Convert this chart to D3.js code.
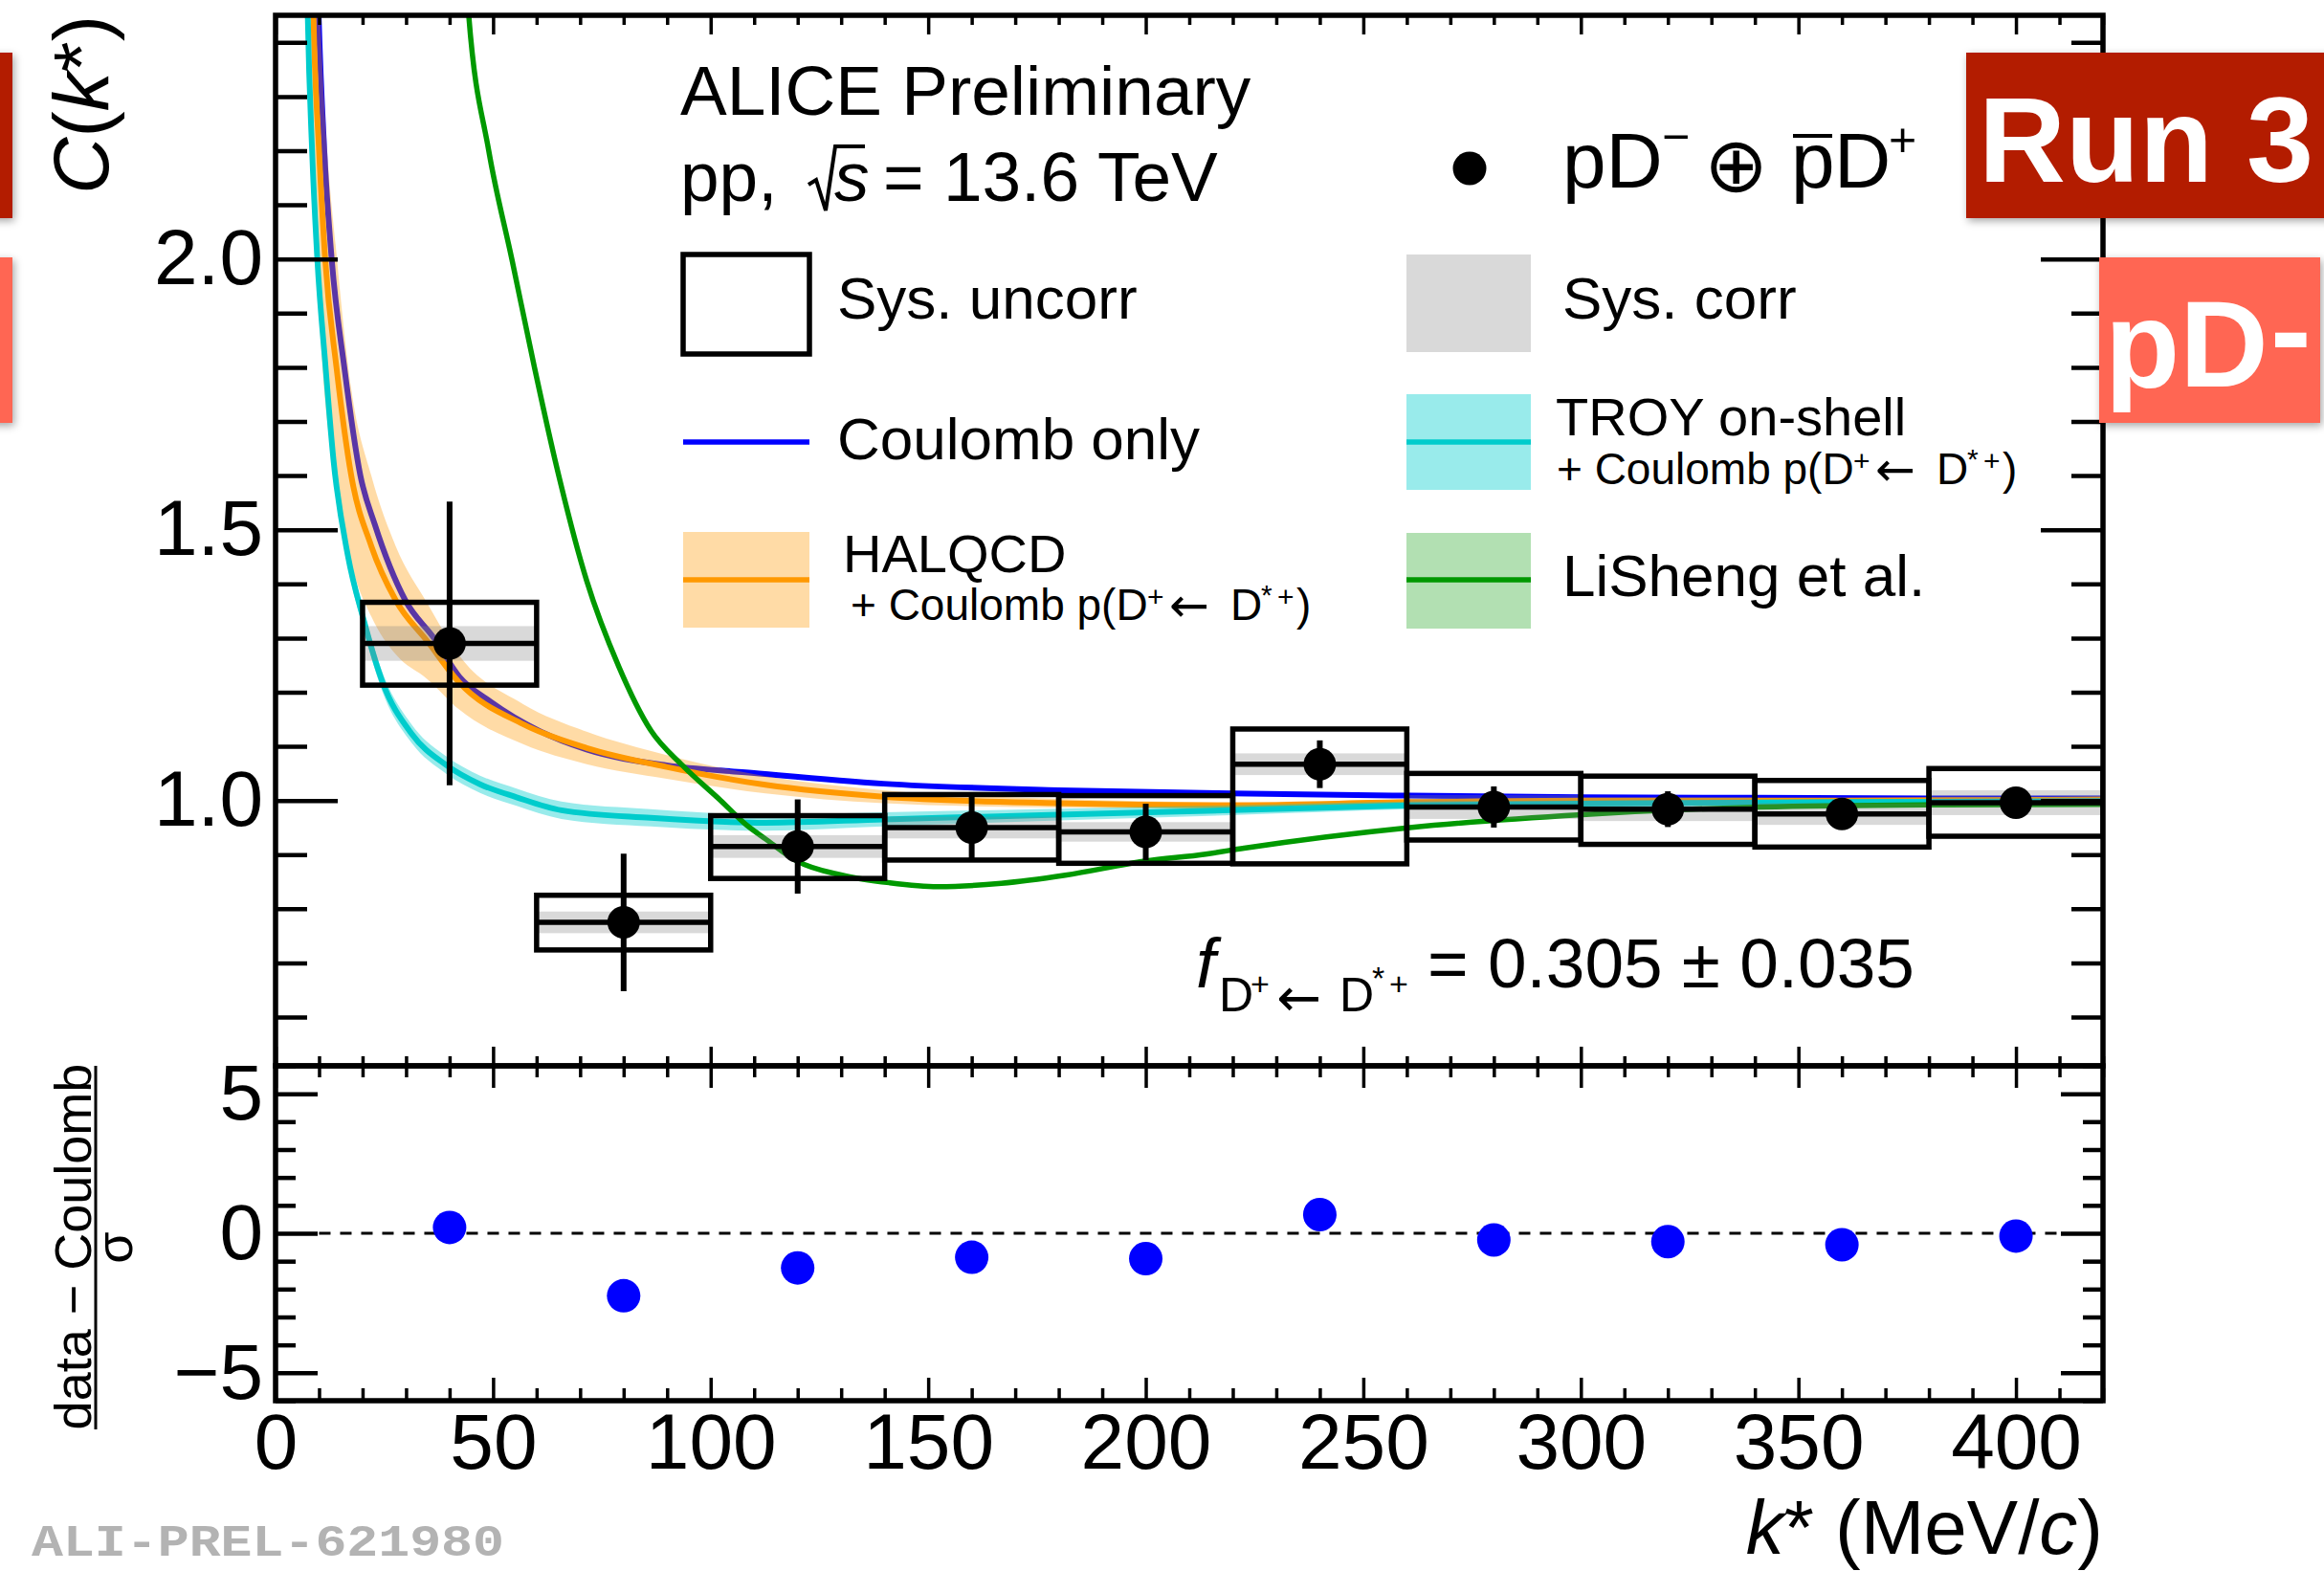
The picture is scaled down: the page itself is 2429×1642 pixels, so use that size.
<!DOCTYPE html>
<html>
<head>
<meta charset="utf-8">
<script src="https://cdn.jsdelivr.net/npm/d3@7"></script>
<style>
  html, body { margin: 0; padding: 0; background: #fff; }
  svg { display: block; font-family: "Liberation Sans", Arial, Helvetica, sans-serif; }
</style>
</head>
<body>
<svg id="chart" width="2429" height="1642"></svg>
<script>
// ---- measured p-D correlation function (bins of 40 MeV/c) ----
const kStar         = [40, 80, 120, 160, 200, 240, 280, 320, 360, 400];
const binHalfWidth  = 20;
const cValue        = [1.290, 0.775, 0.915, 0.950, 0.942, 1.067, 0.988, 0.984, 0.975, 0.996];
const statErr       = [0.262, 0.127, 0.087, 0.060, 0.052, 0.044, 0.038, 0.033, 0.025, 0.025];
const sysUncorrLow  = [1.213, 0.724, 0.856, 0.890, 0.884, 0.883, 0.927, 0.919, 0.914, 0.934];
const sysUncorrHigh = [1.366, 0.825, 0.972, 1.011, 1.009, 1.132, 1.050, 1.045, 1.037, 1.059];
const sysCorrErr    = [0.032, 0.020, 0.021, 0.020, 0.018, 0.020, 0.022, 0.022, 0.020, 0.023];

// (data - Coulomb) / sigma
const pullValue     = [0.21, -2.24, -1.24, -0.86, -0.91, 0.67, -0.24, -0.30, -0.41, -0.10];

// ---- model curves ----
const coulombK = [9.0, 9.9, 11.2, 12.9, 15.8, 19.5, 22.8, 29.8, 36.4, 42.2, 49.5, 60.5, 71.5, 89.9, 108, 139.7, 180, 219.6, 260.7, 300, 340, 380, 420];
const coulombC = [2.75, 2.45, 2.20, 2.00, 1.80, 1.60, 1.51, 1.37, 1.30, 1.229, 1.182, 1.129, 1.094, 1.065, 1.052, 1.031, 1.019, 1.013, 1.009, 1.006, 1.005, 1.004, 1.004];

const halqcdK   = [8.0, 8.7, 10.0, 11.4, 14.0, 17.4, 22.0, 27.6, 34.9, 42.2, 56.9, 71.5, 89.9, 112.6, 139.7, 180, 219.6, 260.7, 300, 360, 420];
const halqcdC   = [2.75, 2.45, 2.20, 2.00, 1.80, 1.60, 1.47, 1.37, 1.294, 1.218, 1.141, 1.097, 1.062, 1.029, 1.007, 0.995, 0.991, 0.997, 1.000, 1.000, 1.002];
const halqcdErr = [0.40, 0.35, 0.30, 0.26, 0.21, 0.16, 0.13, 0.10, 0.07, 0.05, 0.037, 0.030, 0.022, 0.016, 0.012, 0.008, 0.006, 0.005, 0.004, 0.004, 0.004];

const troyK   = [6.8, 7.4, 8.4, 9.6, 11.5, 13.3, 16.6, 20.2, 24.6, 31.2, 39.3, 47.0, 55.4, 65.7, 86.2, 112.6, 139.7, 180, 219.6, 260.7, 300, 360, 420];
const troyC   = [2.75, 2.45, 2.20, 2.00, 1.80, 1.63, 1.453, 1.335, 1.218, 1.124, 1.065, 1.030, 1.006, 0.982, 0.968, 0.959, 0.965, 0.974, 0.982, 0.991, 0.994, 0.997, 0.999];
const troyErr = [0.030, 0.030, 0.025, 0.025, 0.020, 0.020, 0.020, 0.018, 0.018, 0.017, 0.016, 0.016, 0.016, 0.016, 0.016, 0.015, 0.013, 0.011, 0.009, 0.007, 0.006, 0.005, 0.004];

const lishengK = [42.0, 44.4, 49.0, 54.3, 59.5, 64.2, 71.5, 78.9, 86.2, 93.5, 102.3, 108.2, 112.6, 119.9, 130.2, 141.2, 152.2, 166.8, 181.5, 199.8, 213.8, 222.6, 260.7, 300.3, 341.3, 379.4, 420];
const lishengC = [2.75, 2.45, 2.20, 2.00, 1.80, 1.63, 1.406, 1.247, 1.130, 1.065, 1.000, 0.955, 0.929, 0.888, 0.862, 0.848, 0.841, 0.847, 0.862, 0.888, 0.901, 0.912, 0.950, 0.974, 0.988, 0.992, 0.993];

// ---- axis ticks ----
const kMajorTicks    = [0, 50, 100, 150, 200, 250, 300, 350, 400];
const kMinorTicks    = d3.range(0, 43).map(i => i * 10).filter(v => v % 50 !== 0 && v <= 420);
const cMajorTicks    = [1.0, 1.5, 2.0];
const cMinorTicks    = d3.range(6, 25).map(i => i / 10).filter(v => !cMajorTicks.includes(v));
const pullMajorTicks = [-5, 0, 5];
const pullMinorTicks = d3.range(-6, 7).filter(v => !pullMajorTicks.includes(v));

// ---- layout ----
const X0 = 288, X1 = 2198, TOP = 16, MID = 1114, BOT = 1464;
const FONT = '"Liberation Sans", Arial, Helvetica, sans-serif';
const SYMBOL_FONT = '"DejaVu Sans", sans-serif';

const svg = d3.select("#chart");
svg.append("rect").attr("width", 2429).attr("height", 1642).attr("fill", "#fff");

const x  = d3.scaleLinear().domain([0, 420]).range([X0, X1]);
const yC = d3.scaleLinear().domain([0.51, 2.45]).range([MID, TOP]);
const yP = d3.scaleLinear().domain([-6, 6]).range([BOT, MID]);

const defs = svg.append("defs");
defs.append("clipPath").attr("id", "upperClip")
  .append("rect").attr("x", X0).attr("y", TOP).attr("width", X1 - X0).attr("height", MID - TOP);
const shadow = defs.append("filter").attr("id", "tileShadow")
  .attr("x", "-20%").attr("y", "-20%").attr("width", "140%").attr("height", "150%");
shadow.append("feDropShadow").attr("dx", 2).attr("dy", 3).attr("stdDeviation", 4)
  .attr("flood-color", "#000").attr("flood-opacity", 0.35);

const COL = {
  blue: "#0000ff", orange: "#ff9900", cyan: "#00cccc", green: "#009900",
  orangeBand: "rgba(255,153,0,0.35)", cyanBand: "rgba(0,204,204,0.4)", greenBand: "rgba(0,153,0,0.3)",
  gray: "rgba(128,128,128,0.3)"
};
const CURVE_W = 6;

// ---- upper panel: models ----
const curves = svg.append("g").attr("clip-path", "url(#upperClip)");
const zipCurve = (ks, cs, es) => ks.map((k, i) => ({ k, c: cs[i], e: es ? es[i] : 0 }));
const line = d3.line().x(d => x(d.k)).y(d => yC(d.c)).curve(d3.curveMonotoneX);
const band = d3.area().x(d => x(d.k)).y0(d => yC(d.c - d.e)).y1(d => yC(d.c + d.e)).curve(d3.curveMonotoneX);

curves.append("path").datum(zipCurve(coulombK, coulombC))
  .attr("d", line).attr("fill", "none").attr("stroke", COL.blue).attr("stroke-width", CURVE_W);
curves.append("path").datum(zipCurve(halqcdK, halqcdC, halqcdErr))
  .attr("d", band).attr("fill", COL.orangeBand);
curves.append("path").datum(zipCurve(halqcdK, halqcdC))
  .attr("d", line).attr("fill", "none").attr("stroke", COL.orange).attr("stroke-width", CURVE_W);
curves.append("path").datum(zipCurve(troyK, troyC, troyErr))
  .attr("d", band).attr("fill", COL.cyanBand);
curves.append("path").datum(zipCurve(troyK, troyC))
  .attr("d", line).attr("fill", "none").attr("stroke", COL.cyan).attr("stroke-width", CURVE_W);
curves.append("path").datum(zipCurve(lishengK, lishengC))
  .attr("d", line).attr("fill", "none").attr("stroke", COL.green).attr("stroke-width", 5.5);

// ---- upper panel: data ----
const points = kStar.map((k, i) => ({
  k, c: cValue[i], stat: statErr[i], lo: sysUncorrLow[i], hi: sysUncorrHigh[i], corr: sysCorrErr[i]
}));
const dataG = svg.append("g").attr("clip-path", "url(#upperClip)");

dataG.selectAll("rect.corr").data(points).join("rect").attr("class", "corr")
  .attr("x", d => x(d.k - binHalfWidth)).attr("width", d => x(d.k + binHalfWidth) - x(d.k - binHalfWidth))
  .attr("y", d => yC(d.c + d.corr)).attr("height", d => yC(d.c - d.corr) - yC(d.c + d.corr))
  .attr("fill", COL.gray);

dataG.selectAll("rect.uncorr").data(points).join("rect").attr("class", "uncorr")
  .attr("x", d => x(d.k - binHalfWidth)).attr("width", d => x(d.k + binHalfWidth) - x(d.k - binHalfWidth))
  .attr("y", d => yC(d.hi)).attr("height", d => yC(d.lo) - yC(d.hi))
  .attr("fill", "none").attr("stroke", "#000").attr("stroke-width", 5.5);

dataG.selectAll("line.xerr").data(points).join("line").attr("class", "xerr")
  .attr("x1", d => x(d.k - binHalfWidth)).attr("x2", d => x(d.k + binHalfWidth))
  .attr("y1", d => yC(d.c)).attr("y2", d => yC(d.c))
  .attr("stroke", "#000").attr("stroke-width", 5.5);

dataG.selectAll("line.yerr").data(points).join("line").attr("class", "yerr")
  .attr("x1", d => x(d.k)).attr("x2", d => x(d.k))
  .attr("y1", d => yC(d.c - d.stat)).attr("y2", d => yC(d.c + d.stat))
  .attr("stroke", "#000").attr("stroke-width", 6);

dataG.selectAll("circle").data(points).join("circle")
  .attr("cx", d => x(d.k)).attr("cy", d => yC(d.c)).attr("r", 17).attr("fill", "#000");

// ---- lower panel ----
svg.append("line")
  .attr("x1", x(10)).attr("x2", x(410)).attr("y1", yP(0)).attr("y2", yP(0))
  .attr("stroke", "#000").attr("stroke-width", 3).attr("stroke-dasharray", "12,10");
svg.append("g").selectAll("circle").data(kStar.map((k, i) => ({ k, p: pullValue[i] }))).join("circle")
  .attr("cx", d => x(d.k)).attr("cy", d => yP(d.p)).attr("r", 17.5).attr("fill", COL.blue);

// ---- axes ----
function tickAxis(axisFn, scale, values, size, tx, ty, fmt, width) {
  const a = axisFn(scale).tickValues(values).tickSizeInner(-size).tickSizeOuter(0)
    .tickPadding(13).tickFormat(fmt || (() => ""));
  const g = svg.append("g").attr("transform", `translate(${tx},${ty})`).call(a);
  g.select(".domain").remove();
  g.selectAll(".tick line").attr("stroke", "#000").attr("stroke-width", width || 4.5);
  g.selectAll(".tick text").attr("font-size", 82).attr("font-family", FONT).attr("fill", "#000");
  return g;
}
const minusFmt = v => (v < 0 ? "\u2212" + Math.abs(v) : String(v));

// upper panel
tickAxis(d3.axisLeft,   yC, cMajorTicks, 65, X0, 0, d3.format(".1f"));
tickAxis(d3.axisLeft,   yC, cMinorTicks, 33, X0, 0);
tickAxis(d3.axisRight,  yC, cMajorTicks, 65, X1, 0);
tickAxis(d3.axisRight,  yC, cMinorTicks, 33, X1, 0);
tickAxis(d3.axisTop,    x, kMajorTicks, 20, 0, TOP, null, 3.5);
tickAxis(d3.axisTop,    x, kMinorTicks, 10, 0, TOP, null, 3.5);
tickAxis(d3.axisBottom, x, kMajorTicks, 20, 0, MID, null, 3.5);
tickAxis(d3.axisBottom, x, kMinorTicks, 10, 0, MID, null, 3.5);
// lower panel
tickAxis(d3.axisLeft,   yP, pullMajorTicks, 44, X0, 0, minusFmt);
tickAxis(d3.axisLeft,   yP, pullMinorTicks, 21, X0, 0);
tickAxis(d3.axisRight,  yP, pullMajorTicks, 44, X1, 0);
tickAxis(d3.axisRight,  yP, pullMinorTicks, 21, X1, 0);
tickAxis(d3.axisTop,    x, kMajorTicks, 23, 0, MID, null, 3.5);
tickAxis(d3.axisTop,    x, kMinorTicks, 12, 0, MID, null, 3.5);
tickAxis(d3.axisBottom, x, kMajorTicks, 24, 0, BOT, d3.format("d"), 3.5);
tickAxis(d3.axisBottom, x, kMinorTicks, 13, 0, BOT, null, 3.5);

// frames
svg.append("rect").attr("x", X0).attr("y", TOP).attr("width", X1 - X0).attr("height", MID - TOP)
  .attr("fill", "none").attr("stroke", "#000").attr("stroke-width", 5.5);
svg.append("rect").attr("x", X0).attr("y", MID).attr("width", X1 - X0).attr("height", BOT - MID)
  .attr("fill", "none").attr("stroke", "#000").attr("stroke-width", 5.5);

// ---- text helpers ----
function put(g, xx, yy, str, size, o = {}) {
  const t = g.append("text").attr("x", xx).attr("y", yy).attr("font-size", size)
    .attr("font-family", o.family || FONT).attr("fill", o.fill || "#000").text(str);
  if (o.italic) t.attr("font-style", "italic");
  if (o.bold) t.attr("font-weight", "bold");
  if (o.anchor) t.attr("text-anchor", o.anchor);
  return t;
}
const txt = svg.append("g");

// axis titles
const yTitle = txt.append("text").attr("transform", "translate(113,16) rotate(-90)")
  .attr("text-anchor", "end").attr("font-size", 82).attr("font-family", FONT);
yTitle.append("tspan").attr("font-style", "italic").text("C");
yTitle.append("tspan").text("(");
yTitle.append("tspan").attr("font-style", "italic").text("k");
yTitle.append("tspan").text("*)");

txt.append("text").attr("transform", "translate(95,1303) rotate(-90)").attr("text-anchor", "middle")
  .attr("font-size", 54).attr("font-family", FONT).text("data \u2212 Coulomb");
txt.append("line").attr("x1", 100).attr("x2", 100).attr("y1", 1114).attr("y2", 1494)
  .attr("stroke", "#000").attr("stroke-width", 3);
txt.append("text").attr("transform", "translate(138,1304) rotate(-90)").attr("text-anchor", "middle")
  .attr("font-size", 54).attr("font-family", FONT).text("\u03C3");

const xTitle = txt.append("text").attr("x", X1).attr("y", 1624).attr("text-anchor", "end")
  .attr("font-size", 80).attr("font-family", FONT);
xTitle.append("tspan").attr("font-style", "italic").text("k");
xTitle.append("tspan").text("* (MeV/");
xTitle.append("tspan").attr("font-style", "italic").text("c");
xTitle.append("tspan").text(")");

put(txt, 33, 1626, "ALI-PREL-621980", 46, { family: '"Liberation Mono", "DejaVu Sans Mono", monospace', bold: true, fill: "#b3b3b3" })
  .attr("textLength", 494).attr("lengthAdjust", "spacingAndGlyphs");

// header
put(txt, 711, 120, "ALICE Preliminary", 73);
put(txt, 711, 210, "pp,", 73);
txt.append("path").attr("d", "M845,193 L853,188 L863,220 L873,153 L904,153")
  .attr("fill", "none").attr("stroke", "#000").attr("stroke-width", 4).attr("stroke-linejoin", "miter");
put(txt, 872, 210, "s", 73, { italic: true });
put(txt, 923, 210, "= 13.6 TeV", 73);

// data legend entry
txt.append("circle").attr("cx", 1536).attr("cy", 176).attr("r", 17.5).attr("fill", "#000");
put(txt, 1633, 196, "pD", 82);
put(txt, 1737, 160, "\u2212", 50);
put(txt, 1781, 200, "\u2295", 80, { family: SYMBOL_FONT });
put(txt, 1872, 196, "p", 82);
txt.append("line").attr("x1", 1874).attr("x2", 1915).attr("y1", 142).attr("y2", 142)
  .attr("stroke", "#000").attr("stroke-width", 4);
put(txt, 1917, 196, "D", 82);
put(txt, 1974, 163, "+", 50);

// "+ Coulomb p(D+ <- D*+)" sub-line
function coulombFeedLine(x0, y0) {
  put(txt, x0, y0, "+ Coulomb p(D", 46);
  put(txt, x0 + 310, y0 - 14, "+", 30);
  put(txt, x0 + 333, y0 + 2, "\u2190", 50, { family: SYMBOL_FONT });
  put(txt, x0 + 397, y0, "D", 46);
  put(txt, x0 + 429, y0 - 16, "*", 30);
  put(txt, x0 + 446, y0 - 14, "+", 30);
  put(txt, x0 + 466, y0, ")", 46);
}

// left legend column
txt.append("rect").attr("x", 714).attr("y", 266).attr("width", 132).attr("height", 104)
  .attr("fill", "none").attr("stroke", "#000").attr("stroke-width", 5.5);
put(txt, 875, 333, "Sys. uncorr", 62);
txt.append("line").attr("x1", 714).attr("x2", 846).attr("y1", 462).attr("y2", 462)
  .attr("stroke", COL.blue).attr("stroke-width", 5.5);
put(txt, 875, 480, "Coulomb only", 62);
txt.append("rect").attr("x", 714).attr("y", 556).attr("width", 132).attr("height", 100).attr("fill", COL.orangeBand);
txt.append("line").attr("x1", 714).attr("x2", 846).attr("y1", 606).attr("y2", 606)
  .attr("stroke", COL.orange).attr("stroke-width", 5.5);
put(txt, 881, 598, "HALQCD", 56);
coulombFeedLine(889, 648);

// right legend column
txt.append("rect").attr("x", 1470).attr("y", 266).attr("width", 130).attr("height", 102).attr("fill", COL.gray);
put(txt, 1633, 333, "Sys. corr", 62);
txt.append("rect").attr("x", 1470).attr("y", 412).attr("width", 130).attr("height", 100).attr("fill", COL.cyanBand);
txt.append("line").attr("x1", 1470).attr("x2", 1600).attr("y1", 462).attr("y2", 462)
  .attr("stroke", COL.cyan).attr("stroke-width", 5.5);
put(txt, 1626, 455, "TROY on-shell", 56);
coulombFeedLine(1627, 506);
txt.append("rect").attr("x", 1470).attr("y", 557).attr("width", 130).attr("height", 100).attr("fill", COL.greenBand);
txt.append("line").attr("x1", 1470).attr("x2", 1600).attr("y1", 606).attr("y2", 606)
  .attr("stroke", COL.green).attr("stroke-width", 5.5);
put(txt, 1633, 623, "LiSheng et al.", 62);

// feed-down fraction
put(txt, 1250, 1032, "f", 73, { italic: true });
put(txt, 1274, 1057, "D", 50);
put(txt, 1307, 1040, "+", 34);
put(txt, 1334, 1062, "\u2190", 56, { family: SYMBOL_FONT });
put(txt, 1400, 1057, "D", 50);
put(txt, 1434, 1034, "*", 34);
put(txt, 1452, 1040, "+", 34);
put(txt, 1492, 1032, "= 0.305 \u00B1 0.035", 73);

// ---- corner tiles ----
const tiles = svg.append("g");
tiles.append("rect").attr("x", -200).attr("y", 55).attr("width", 213).attr("height", 173)
  .attr("fill", "#b31a04").attr("filter", "url(#tileShadow)");
tiles.append("rect").attr("x", -200).attr("y", 269).attr("width", 213).attr("height", 173)
  .attr("fill", "#ff6652").attr("filter", "url(#tileShadow)");
tiles.append("rect").attr("x", 2055).attr("y", 55).attr("width", 420).attr("height", 173)
  .attr("fill", "#b31a04").attr("filter", "url(#tileShadow)");
put(tiles, 2068, 190, "Run 3", 126, { bold: true, fill: "#fff" });
tiles.append("rect").attr("x", 2194).attr("y", 269).attr("width", 231).attr("height", 173)
  .attr("fill", "#ff6652").attr("filter", "url(#tileShadow)");
put(tiles, 2200, 404, "pD", 128, { bold: true, fill: "#fff" });
put(tiles, 2373, 389, "-", 128, { bold: true, fill: "#fff" });
</script>
</body>
</html>
